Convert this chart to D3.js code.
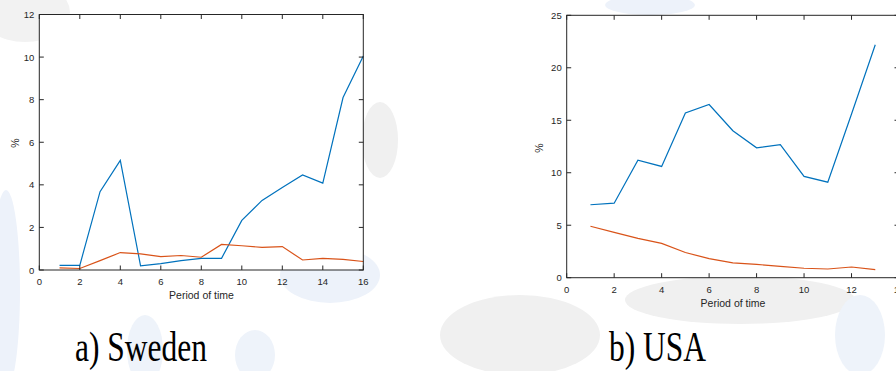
<!DOCTYPE html>
<html>
<head>
<meta charset="utf-8">
<script src="https://cdn.jsdelivr.net/npm/d3@7"></script>
<style>
  body { margin: 0; background: #fff; }
  svg { display: block; }
  text { font-family: "Liberation Sans", Arial, sans-serif; }
  text.caption { font-family: "Liberation Serif", "Times New Roman", serif; }
</style>
</head>
<body>
<div id="chart"></div>
<script>
// periods
const periodsSweden = [1, 2, 3, 4, 5, 6, 7, 8, 9, 10, 11, 12, 13, 14, 15, 16];
const periodsUSA = [1, 2, 3, 4, 5, 6, 7, 8, 9, 10, 11, 12, 13];

// series values (%)
const swedenBlue = [0.22, 0.22, 3.68, 5.15, 0.2, 0.3, 0.44, 0.55, 0.55, 2.33, 3.27, 3.88, 4.46, 4.08, 8.1, 10.05];
const swedenOrange = [0.1, 0.07, 0.44, 0.82, 0.76, 0.63, 0.68, 0.6, 1.2, 1.14, 1.06, 1.1, 0.47, 0.55, 0.5, 0.4];
const usaBlue = [6.95, 7.1, 11.2, 10.6, 15.7, 16.5, 14.0, 12.38, 12.67, 9.65, 9.1, 15.6, 22.2];
const usaOrange = [4.9, 4.32, 3.75, 3.27, 2.4, 1.82, 1.42, 1.27, 1.08, 0.9, 0.83, 1.02, 0.77];

// ticks
const swedenXTicks = [0, 2, 4, 6, 8, 10, 12, 14, 16];
const swedenYTicks = [0, 2, 4, 6, 8, 10, 12];
const usaXTicks = [0, 2, 4, 6, 8, 10, 12, 14];
const usaYTicks = [0, 5, 10, 15, 20, 25];

const width = 896, height = 371;
const blue = "#0072BD", orange = "#D95319", axisColor = "#262626";

const svg = d3.select("#chart").append("svg")
    .attr("width", width)
    .attr("height", height);

// faint watermark blobs in the background
const bg = svg.append("g");
const blobs = [
  { cx: 6, cy: 290, rx: 14, ry: 100, c: "#edf2fa" },
  { cx: 145, cy: 350, rx: 18, ry: 35, c: "#eef3fa" },
  { cx: 255, cy: 355, rx: 20, ry: 25, c: "#eef3fa" },
  { cx: 330, cy: 275, rx: 50, ry: 28, c: "#edf2fa" },
  { cx: 380, cy: 140, rx: 18, ry: 38, c: "#f0f0f0" },
  { cx: 25, cy: 12, rx: 45, ry: 30, c: "#f2f2f2" },
  { cx: 650, cy: 5, rx: 45, ry: 10, c: "#edf2fa" },
  { cx: 520, cy: 335, rx: 80, ry: 40, c: "#f0f0f0" },
  { cx: 740, cy: 300, rx: 115, ry: 24, c: "#f0f0f0" },
  { cx: 860, cy: 335, rx: 25, ry: 40, c: "#eef3fa" }
];
bg.selectAll("ellipse")
  .data(blobs)
  .enter().append("ellipse")
  .attr("cx", d => d.cx)
  .attr("cy", d => d.cy)
  .attr("rx", d => d.rx)
  .attr("ry", d => d.ry)
  .attr("fill", d => d.c);

function drawPanel(opts) {
    const x = d3.scaleLinear().domain(opts.xDomain).range([opts.left, opts.right]);
    const y = d3.scaleLinear().domain(opts.yDomain).range([opts.bottom, opts.top]);
    const g = svg.append("g");
    const tick = 4.5;

    // white plot area
    g.append("rect")
     .attr("x", opts.left).attr("y", opts.top)
     .attr("width", opts.right - opts.left)
     .attr("height", opts.bottom - opts.top)
     .attr("fill", "#fff");

    const lineGen = d3.line()
        .x((d, i) => x(opts.periods[i]))
        .y(d => y(d));

    g.append("path")
     .datum(opts.blue)
     .attr("d", lineGen)
     .attr("fill", "none")
     .attr("stroke", blue)
     .attr("stroke-width", 1.2);

    g.append("path")
     .datum(opts.orange)
     .attr("d", lineGen)
     .attr("fill", "none")
     .attr("stroke", orange)
     .attr("stroke-width", 1.2);

    // box
    g.append("rect")
     .attr("x", opts.left).attr("y", opts.top)
     .attr("width", opts.right - opts.left)
     .attr("height", opts.bottom - opts.top)
     .attr("fill", "none")
     .attr("stroke", axisColor)
     .attr("stroke-width", 1);

    // x ticks, bottom and top, pointing inward
    opts.xTicks.forEach(t => {
        const px = x(t);
        g.append("line").attr("x1", px).attr("x2", px)
         .attr("y1", opts.bottom).attr("y2", opts.bottom - tick)
         .attr("stroke", axisColor);
        g.append("line").attr("x1", px).attr("x2", px)
         .attr("y1", opts.top).attr("y2", opts.top + tick)
         .attr("stroke", axisColor);
        g.append("text")
         .attr("x", px).attr("y", opts.bottom + 15)
         .attr("text-anchor", "middle")
         .attr("font-size", 9.5)
         .attr("fill", axisColor)
         .text(t);
    });

    // y ticks, left and right
    opts.yTicks.forEach(t => {
        const py = y(t);
        g.append("line").attr("x1", opts.left).attr("x2", opts.left + tick)
         .attr("y1", py).attr("y2", py)
         .attr("stroke", axisColor);
        g.append("line").attr("x1", opts.right).attr("x2", opts.right - tick)
         .attr("y1", py).attr("y2", py)
         .attr("stroke", axisColor);
        g.append("text")
         .attr("x", opts.left - 5).attr("y", py + 3.5)
         .attr("text-anchor", "end")
         .attr("font-size", 9.5)
         .attr("fill", axisColor)
         .text(t);
    });

    // axis labels
    g.append("text")
     .attr("x", opts.xLabelX)
     .attr("y", opts.bottom + 29)
     .attr("text-anchor", "middle")
     .attr("font-size", 10.5)
     .attr("fill", axisColor)
     .text("Period of time");

    g.append("text")
     .attr("transform", `translate(${opts.yLabelX},${opts.yLabelY}) rotate(-90)`)
     .attr("text-anchor", "middle")
     .attr("font-size", 10.5)
     .attr("fill", axisColor)
     .text("%");

    // caption, the source picture is a bit stretched vertically
    svg.append("text")
     .attr("class", "caption")
     .attr("transform", `translate(${opts.captionX},361) scale(1,1.32)`)
     .attr("font-size", 31.5)
     .attr("fill", "#000")
     .text(opts.caption);
}

drawPanel({
    periods: periodsSweden, blue: swedenBlue, orange: swedenOrange,
    xDomain: [0, 16], yDomain: [0, 12],
    xTicks: swedenXTicks, yTicks: swedenYTicks,
    left: 39.3, right: 363.3, top: 14.5, bottom: 270,
    xLabelX: 201.5, yLabelX: 18.5, yLabelY: 143,
    caption: "a) Sweden", captionX: 75
});

drawPanel({
    periods: periodsUSA, blue: usaBlue, orange: usaOrange,
    xDomain: [0, 14], yDomain: [0, 25],
    xTicks: usaXTicks, yTicks: usaYTicks,
    left: 566.7, right: 899, top: 15.3, bottom: 277.7,
    xLabelX: 733, yLabelX: 543, yLabelY: 148,
    caption: "b) USA", captionX: 609
});
</script>
</body>
</html>
